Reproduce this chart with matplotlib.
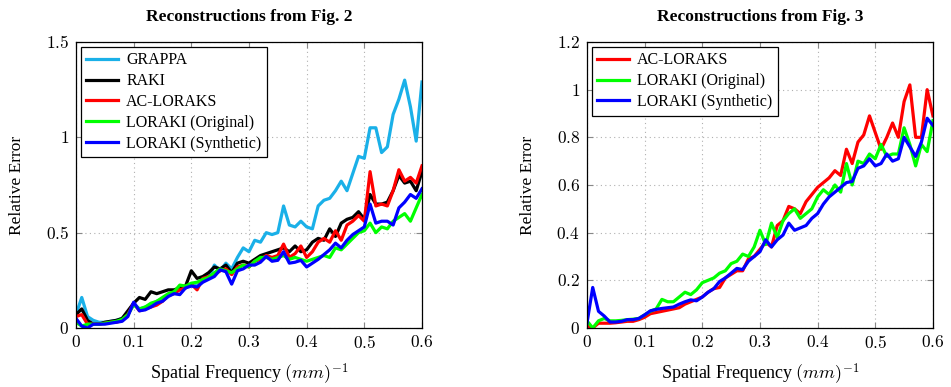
import matplotlib
import numpy as np

matplotlib.use("Agg")
import matplotlib.pyplot as plt  # noqa: E402
from matplotlib.ticker import FuncFormatter  # noqa: E402

plt.rcParams["font.family"] = ["Liberation Serif", "DejaVu Serif"]
plt.rcParams["mathtext.fontset"] = "cm"

# spatial frequency grid, (mm)^-1
freq = np.round(np.arange(0, 0.601, 0.01), 2)

# ---- Fig. 2 reconstructions ----
grappa_2 = [0.07, 0.16, 0.06, 0.04, 0.03, 0.03, 0.035, 0.04, 0.05, 0.08,
            0.13, 0.10, 0.11, 0.12, 0.14, 0.15, 0.17, 0.19, 0.21, 0.21,
            0.23, 0.22, 0.25, 0.26, 0.33, 0.30, 0.34, 0.31, 0.37, 0.42,
            0.40, 0.46, 0.45, 0.50, 0.49, 0.50, 0.64, 0.54, 0.53, 0.56,
            0.53, 0.52, 0.64, 0.67, 0.68, 0.72, 0.77, 0.72, 0.81, 0.90,
            0.89, 1.05, 1.05, 0.92, 0.95, 1.12, 1.20, 1.30, 1.16, 0.98,
            1.29]
raki_2 = [0.07, 0.10, 0.04, 0.02, 0.02, 0.03, 0.035, 0.04, 0.05, 0.09,
          0.13, 0.16, 0.15, 0.19, 0.18, 0.19, 0.20, 0.20, 0.21, 0.22,
          0.30, 0.26, 0.27, 0.29, 0.32, 0.31, 0.33, 0.29, 0.34, 0.35,
          0.34, 0.36, 0.38, 0.39, 0.40, 0.41, 0.42, 0.40, 0.43, 0.40,
          0.41, 0.45, 0.47, 0.46, 0.52, 0.48, 0.55, 0.57, 0.58, 0.61,
          0.57, 0.70, 0.65, 0.65, 0.66, 0.72, 0.80, 0.76, 0.77, 0.72,
          0.82]
acloraks_2 = [0.06, 0.07, 0.02, 0.02, 0.02, 0.025, 0.03, 0.03, 0.04, 0.07,
              0.13, 0.09, 0.10, 0.11, 0.12, 0.14, 0.17, 0.18, 0.20, 0.21,
              0.23, 0.20, 0.26, 0.27, 0.28, 0.30, 0.31, 0.28, 0.32, 0.33,
              0.32, 0.35, 0.36, 0.38, 0.37, 0.38, 0.44, 0.37, 0.39, 0.43,
              0.37, 0.40, 0.45, 0.47, 0.45, 0.51, 0.46, 0.54, 0.56, 0.59,
              0.56, 0.82, 0.64, 0.65, 0.64, 0.72, 0.83, 0.77, 0.79, 0.76,
              0.85]
loraki_orig_2 = [0.03, 0.01, 0.02, 0.02, 0.02, 0.025, 0.03, 0.035, 0.045, 0.07,
                 0.12, 0.10, 0.11, 0.13, 0.14, 0.16, 0.18, 0.19, 0.225, 0.22,
                 0.235, 0.24, 0.255, 0.265, 0.29, 0.31, 0.30, 0.29, 0.31, 0.33,
                 0.32, 0.35, 0.37, 0.37, 0.36, 0.37, 0.38, 0.36, 0.37, 0.36,
                 0.35, 0.36, 0.37, 0.38, 0.37, 0.42, 0.41, 0.44, 0.47, 0.50,
                 0.51, 0.55, 0.50, 0.53, 0.52, 0.56, 0.58, 0.60, 0.56, 0.63,
                 0.70]
loraki_syn_2 = [0.05, 0.01, 0.00, 0.02, 0.02, 0.02, 0.025, 0.03, 0.035, 0.06,
                0.135, 0.09, 0.095, 0.11, 0.13, 0.14, 0.165, 0.18, 0.175, 0.21,
                0.22, 0.215, 0.24, 0.255, 0.27, 0.305, 0.295, 0.23, 0.30, 0.31,
                0.33, 0.33, 0.345, 0.375, 0.35, 0.355, 0.40, 0.34, 0.345, 0.355,
                0.32, 0.34, 0.36, 0.385, 0.41, 0.445, 0.42, 0.46, 0.49, 0.51,
                0.53, 0.65, 0.55, 0.56, 0.56, 0.54, 0.63, 0.66, 0.70, 0.68,
                0.73]

# ---- Fig. 3 reconstructions ----
acloraks_3 = [0.01, 0.00, 0.02, 0.02, 0.02, 0.022, 0.025, 0.028, 0.028, 0.035,
              0.045, 0.06, 0.065, 0.07, 0.075, 0.08, 0.085, 0.10, 0.11, 0.12,
              0.13, 0.15, 0.165, 0.17, 0.21, 0.225, 0.24, 0.24, 0.29, 0.30,
              0.33, 0.36, 0.34, 0.43, 0.45, 0.51, 0.50, 0.48, 0.53, 0.56,
              0.59, 0.61, 0.63, 0.66, 0.64, 0.75, 0.69, 0.78, 0.81, 0.89,
              0.82, 0.75, 0.80, 0.86, 0.80, 0.95, 1.02, 0.80, 0.80, 1.00,
              0.89]
loraki_orig_3 = [0.03, 0.00, 0.03, 0.04, 0.03, 0.03, 0.032, 0.035, 0.037, 0.04,
                 0.055, 0.07, 0.08, 0.12, 0.11, 0.11, 0.13, 0.15, 0.14, 0.16,
                 0.19, 0.20, 0.21, 0.23, 0.24, 0.27, 0.28, 0.31, 0.30, 0.34,
                 0.41, 0.35, 0.44, 0.38, 0.45, 0.48, 0.50, 0.46, 0.48, 0.50,
                 0.55, 0.58, 0.56, 0.60, 0.57, 0.69, 0.60, 0.70, 0.69, 0.73,
                 0.71, 0.77, 0.72, 0.73, 0.73, 0.84, 0.77, 0.68, 0.77, 0.74,
                 0.87]
loraki_syn_3 = [0.02, 0.17, 0.07, 0.05, 0.025, 0.025, 0.028, 0.035, 0.035, 0.04,
                0.055, 0.072, 0.078, 0.082, 0.085, 0.088, 0.10, 0.11, 0.118, 0.114,
                0.13, 0.15, 0.165, 0.195, 0.21, 0.23, 0.25, 0.245, 0.28, 0.30,
                0.32, 0.37, 0.34, 0.37, 0.39, 0.44, 0.41, 0.42, 0.43, 0.46,
                0.48, 0.52, 0.55, 0.57, 0.59, 0.61, 0.615, 0.67, 0.68, 0.71,
                0.68, 0.69, 0.73, 0.70, 0.71, 0.80, 0.76, 0.72, 0.78, 0.88,
                0.85]

COLORS = {"GRAPPA": "#1AB0E8", "RAKI": "black", "AC-LORAKS": "#FF0000",
          "LORAKI (Original)": "#00FF00", "LORAKI (Synthetic)": "#0000FF"}


def _fmt(v, _pos):
    # pgfplots-style labels: 0, 0.5, 1, 1.5 in math font
    s = f"{v:.1f}"
    s = "0" if abs(v) < 1e-9 else (s[:-2] if s.endswith(".0") else s)
    return f"${s}$"


def _style(ax, ymax, ystep, title):
    ax.set_xlim(0, 0.6)
    ax.set_ylim(0, ymax)
    ax.set_xticks(np.arange(0, 0.61, 0.1))
    ax.set_yticks(np.arange(0, ymax + 1e-9, ystep))
    ax.xaxis.set_major_formatter(FuncFormatter(_fmt))
    ax.yaxis.set_major_formatter(FuncFormatter(_fmt))
    ax.grid(True, ls=(0, (1, 3)), color="#b0b0b0", lw=0.8)
    ax.tick_params(direction="in", top=True, right=True, length=4,
                   color="#888888", labelsize=12.5, pad=5)
    for sp in ax.spines.values():
        sp.set_linewidth(0.9)
    ax.set_title(title, fontsize=12.5, fontweight="bold", pad=15)
    ax.set_xlabel(r"Spatial Frequency $(mm)^{-1}$", fontsize=13, labelpad=7)
    ax.set_ylabel("Relative Error", fontsize=12.5, labelpad=15)
    leg = ax.legend(loc="upper left", fontsize=11.5, frameon=True, fancybox=False,
                    edgecolor="black", framealpha=1, handlelength=2.0,
                    borderpad=0.35, labelspacing=0.3, handletextpad=0.5,
                    borderaxespad=0.3)
    leg.get_frame().set_linewidth(0.9)


fig = plt.figure(figsize=(9.51, 3.87), dpi=100)
ax1 = fig.add_axes([0.0799, 0.1525, 0.3638, 0.739])
ax2 = fig.add_axes([0.6172, 0.1525, 0.3638, 0.739])

for name, vals in [("GRAPPA", grappa_2), ("RAKI", raki_2),
                   ("AC-LORAKS", acloraks_2),
                   ("LORAKI (Original)", loraki_orig_2),
                   ("LORAKI (Synthetic)", loraki_syn_2)]:
    ax1.plot(freq, vals, color=COLORS[name], lw=2.3, label=name)
_style(ax1, 1.5, 0.5, "Reconstructions from Fig. 2")

for name, vals in [("AC-LORAKS", acloraks_3),
                   ("LORAKI (Original)", loraki_orig_3),
                   ("LORAKI (Synthetic)", loraki_syn_3)]:
    ax2.plot(freq, vals, color=COLORS[name], lw=2.3, label=name)
_style(ax2, 1.2, 0.2, "Reconstructions from Fig. 3")

fig.savefig("out.png", dpi=100)
plt.close(fig)
